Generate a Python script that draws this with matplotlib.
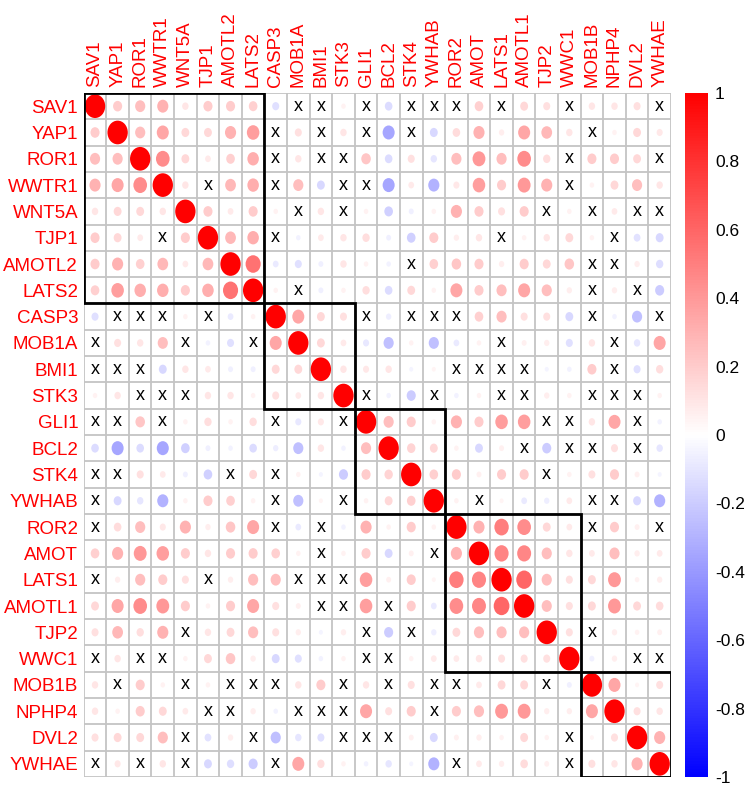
import numpy as np
import matplotlib
matplotlib.use('Agg')
import matplotlib.pyplot as plt
from matplotlib.patches import Ellipse, Rectangle
from matplotlib.colors import LinearSegmentedColormap, Normalize
import matplotlib.colorbar as mcb

plt.rcParams['font.family'] = ['Liberation Sans', 'DejaVu Sans']

genes = ['SAV1', 'YAP1', 'ROR1', 'WWTR1', 'WNT5A', 'TJP1', 'AMOTL2', 'LATS2',
         'CASP3', 'MOB1A', 'BMI1', 'STK3', 'GLI1', 'BCL2', 'STK4', 'YWHAB',
         'ROR2', 'AMOT', 'LATS1', 'AMOTL1', 'TJP2', 'WWC1', 'MOB1B', 'NPHP4',
         'DVL2', 'YWHAE']

X = None  # not significant -> drawn as a cross

# lower triangle, row i holds r(i, j) for j < i
lower = [
    [],
    [0.2],
    [0.25, 0.25],
    [0.3, 0.35, 0.45],
    [0.1, 0.15, 0.15, 0.1],
    [0.2, 0.15, 0.08, X, 0.2],
    [0.2, 0.3, 0.18, 0.28, 0.08, 0.28],
    [0.18, 0.38, 0.32, 0.32, 0.2, 0.32, 0.55],
    [-0.12, X, X, X, 0.05, X, -0.08, 0.05],
    [X, 0.12, 0.1, 0.25, X, -0.05, -0.12, X, 0.35],
    [X, X, X, -0.15, 0.1, 0.08, -0.06, -0.06, 0.15, 0.15],
    [0.05, 0.1, X, X, X, 0.1, 0.1, 0.05, 0.12, 0.08, 0.1],
    [X, X, 0.22, X, 0.05, 0.13, 0.05, 0.13, X, -0.09, 0.09, X],
    [-0.14, -0.35, -0.14, -0.35, -0.18, -0.06, -0.05, -0.14, -0.07, -0.25, 0.1, -0.05, 0.25],
    [X, X, 0.12, 0.08, -0.06, -0.18, X, 0.15, X, 0.05, -0.04, -0.2, 0.2, 0.17],
    [X, -0.15, -0.1, -0.3, 0.05, 0.2, 0.18, 0.05, X, -0.25, 0.04, X, 0.05, 0.15, 0.18],
    [X, 0.14, 0.25, 0.09, 0.3, 0.07, 0.22, 0.35, X, -0.08, X, -0.05, 0.3, 0.05, 0.2, 0.05],
    [0.18, 0.3, 0.4, 0.38, 0.2, 0.1, 0.2, 0.2, 0.18, 0.05, X, 0.05, 0.2, -0.15, 0.06, X, 0.3],
    [X, 0.07, 0.25, 0.2, 0.12, X, 0.07, 0.25, 0.25, X, X, X, 0.38, 0.06, 0.2, 0.04, 0.5, 0.48],
    [0.15, 0.35, 0.45, 0.4, 0.2, 0.05, 0.2, 0.35, 0.12, 0.06, X, X, 0.38, X, 0.2, -0.08, 0.45, 0.47, 0.6],
    [0.12, 0.28, 0.13, 0.3, X, 0.1, 0.15, 0.25, 0.12, 0.07, -0.04, 0.07, X, -0.2, X, -0.07, 0.15, 0.25, 0.25, 0.25],
    [X, 0.1, X, X, 0.05, 0.15, 0.22, 0.07, -0.15, -0.12, -0.05, 0.05, X, X, 0.05, 0.08, 0.08, 0.1, 0.12, 0.12, 0.12],
    [0.1, X, 0.2, 0.05, X, 0.05, X, X, X, 0.1, 0.2, X, 0.1, X, 0.12, X, X, 0.08, 0.15, 0.15, X, -0.06],
    [0.1, 0.05, 0.2, 0.15, 0.08, X, X, 0.07, -0.05, X, X, X, 0.35, 0.12, 0.2, X, 0.2, 0.25, 0.4, 0.4, 0.07, 0.07, 0.35],
    [0.12, 0.15, 0.15, 0.25, X, -0.11, 0.07, X, -0.25, -0.1, -0.12, X, X, X, 0.06, -0.15, 0.06, 0.07, 0.05, 0.15, 0.05, X, 0.04, 0.12],
    [X, 0.09, X, 0.1, X, -0.15, -0.13, -0.2, X, 0.35, 0.13, 0.05, -0.05, -0.1, -0.04, -0.3, X, 0.08, 0.07, 0.14, 0.06, X, 0.12, 0.1, 0.3],
]

# cluster blocks (start, size)
blocks = [(0, 8), (8, 4), (12, 4), (16, 6), (22, 4)]

cbar_ticks = [1, 0.8, 0.6, 0.4, 0.2, 0, -0.2, -0.4, -0.6, -0.8, -1]

n = len(genes)
mat = np.full((n, n), np.nan)
for i in range(n):
    mat[i, i] = 1.0
    for j, v in enumerate(lower[i]):
        if v is not None:
            mat[i, j] = v
            mat[j, i] = v

cmap = LinearSegmentedColormap.from_list('bwr2', ['#0000FF', '#FFFFFF', '#FF0000'])
norm = Normalize(-1, 1)

fig = plt.figure(figsize=(7.49, 7.85), dpi=100)
ax = fig.add_axes([0.1118, 0.0102, 0.784, 0.8713])

for i in range(n):
    for j in range(n):
        r = mat[i, j]
        if np.isnan(r):
            ax.text(j, i, 'x', ha='center', va='center', fontsize=13,
                    color='k', zorder=3)
        else:
            d = 0.9 * np.sqrt(abs(r))
            ax.add_patch(Ellipse((j, i), d, d, facecolor=cmap(norm(r)),
                                 edgecolor='none', zorder=2))

for k in range(n + 1):
    ax.axhline(k - 0.5, color='#C4C4C4', lw=1.3, zorder=1)
    ax.axvline(k - 0.5, color='#C4C4C4', lw=1.3, zorder=1)

for s, m in blocks:
    ax.add_patch(Rectangle((s - 0.5, s - 0.5), m, m, fill=False,
                           edgecolor='k', lw=2, zorder=4))

ax.set_xlim(-0.5, n - 0.5)
ax.set_ylim(n - 0.5, -0.5)
ax.set_xticks(range(n))
ax.set_yticks(range(n))
ax.xaxis.tick_top()
ax.set_xticklabels(genes, rotation=90, color='#FF0000', fontsize=13.5)
ax.set_yticklabels(genes, color='#FF0000', fontsize=13.5)
ax.tick_params(length=0, pad=4)
for sp in ax.spines.values():
    sp.set_visible(False)

cax = fig.add_axes([0.9146, 0.0102, 0.0307, 0.8713])
cb = mcb.ColorbarBase(cax, cmap=cmap, norm=norm, orientation='vertical')
cb.set_ticks(cbar_ticks)
cb.set_ticklabels([('%g' % t) for t in cbar_ticks])
cb.outline.set_visible(False)
cax.tick_params(labelsize=12.5, length=0, pad=5)

fig.savefig('out.png', dpi=100)
